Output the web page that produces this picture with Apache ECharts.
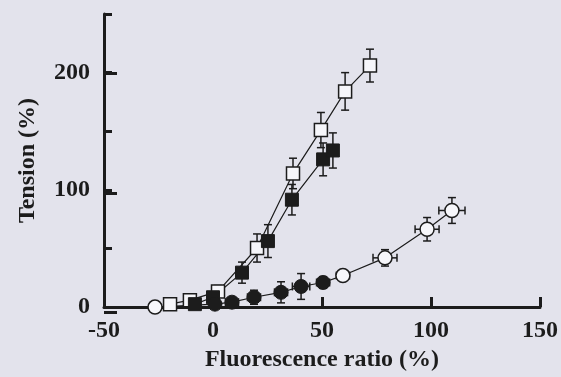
<!DOCTYPE html>
<html><head><meta charset="utf-8">
<script src="https://cdn.jsdelivr.net/npm/echarts@6/dist/echarts.min.js"></script>
<style>html,body{margin:0;padding:0;background:#e3e3ec;}#c{width:561px;height:377px;}</style>
</head><body><div id="c"></div>
<script>
// Data
const xTicks = [-50, 0, 50, 100, 150];
const yTickLabels = [0, 100, 200];

const openSqX = [-19.7, -10.6, 2.3, 20.2, 36.7, 49.5, 60.6, 72];
const openSqY = [2.5, 5.9, 13.4, 50.4, 114, 151, 184, 206];
const openSqErr = [3, 4, 5, 12, 13, 15, 16, 14];

const fillSqX = [-8.3, 0, 13.3, 25.2, 36.2, 50.5, 55];
const fillSqY = [2.5, 8.4, 29.4, 56.3, 91.6, 126, 133.6];
const fillSqErr = [2, 4, 9, 14, 13, 14, 15];

const fillCircX = [0.9, 8.7, 18.8, 31.2, 40.4, 50.5];
const fillCircY = [2.5, 4.2, 8.4, 12.6, 17.6, 21];
const fillCircYErr = [2, 3, 6, 9, 11, 5];
const fillCircXErr = [0, 3, 3, 3, 4, 3];

const openCircX = [-26.6, 59.6, 78.9, 98.2, 109.6];
const openCircY = [0, 26.9, 42, 66.4, 82.4];
const openCircYErr = [0, 4, 7, 10, 11];
const openCircXErr = [0, 3, 5.5, 5.5, 6];

const ink = '#1c1c1c';
function pts(xs, ys) { return xs.map((x, i) => [x, ys[i]]); }
function errPts(xs, ys, ye, xe) { return xs.map((x, i) => [x, ys[i], ye[i], xe ? xe[i] : 0]); }

const circLine = pts(openCircX, openCircY).concat(pts(fillCircX, fillCircY)).sort((a, b) => a[0] - b[0]);

function errRender(params, api) {
  const x = api.value(0), y = api.value(1), ye = api.value(2), xe = api.value(3);
  const c = 4;
  const children = [];
  const st = { stroke: ink, lineWidth: 1.5 };
  if (ye > 0) {
    const t = api.coord([x, y + ye]), b = api.coord([x, y - ye]);
    children.push({ type: 'line', shape: { x1: t[0], y1: t[1], x2: b[0], y2: b[1] }, style: st });
    children.push({ type: 'line', shape: { x1: t[0] - c, y1: t[1], x2: t[0] + c, y2: t[1] }, style: st });
    children.push({ type: 'line', shape: { x1: b[0] - c, y1: b[1], x2: b[0] + c, y2: b[1] }, style: st });
  }
  if (xe > 0) {
    const l = api.coord([x - xe, y]), r = api.coord([x + xe, y]);
    children.push({ type: 'line', shape: { x1: l[0], y1: l[1], x2: r[0], y2: r[1] }, style: st });
    children.push({ type: 'line', shape: { x1: l[0], y1: l[1] - c, x2: l[0], y2: l[1] + c }, style: st });
    children.push({ type: 'line', shape: { x1: r[0], y1: r[1] - c, x2: r[0], y2: r[1] + c }, style: st });
  }
  return { type: 'group', children };
}

const font = { fontFamily: 'Liberation Serif', fontWeight: 'bold', fontSize: 24, color: ink };
const chart = echarts.init(document.getElementById('c'));
const lineStyleThin = { color: ink, width: 1.2 };

// grid 1 covers only 0..200 of the plot, used for the longer labelled ticks
const gTop = 14, gBottom = 65, plotH = 377 - gTop - gBottom;

chart.setOption({
  backgroundColor: '#e3e3ec',
  animation: false,
  grid: [
    { left: 104, right: 21, top: gTop, bottom: gBottom },
    { left: 104, right: 21, top: gTop + plotH * 50 / 250, bottom: gBottom }
  ],
  xAxis: [{
    type: 'value', min: -50, max: 150, interval: 50,
    axisLine: { onZero: false, lineStyle: { color: ink, width: 3 } },
    axisTick: { inside: true, length: 10, lineStyle: { color: ink, width: 3 } },
    splitLine: { show: false },
    axisLabel: Object.assign({ margin: 12, formatter: v => xTicks.includes(v) ? String(v) : '' }, font),
    name: 'Fluorescence ratio (%)', nameLocation: 'middle', nameGap: 40,
    nameTextStyle: font
  }, {
    gridIndex: 1, type: 'value', min: -50, max: 150, show: false
  }],
  yAxis: [{
    type: 'value', min: 0, max: 250, interval: 50,
    axisLine: { show: true, onZero: false, lineStyle: { color: ink, width: 3 } },
    axisTick: { show: true, inside: true, length: 8, lineStyle: { color: ink, width: 3 } },
    splitLine: { show: false },
    axisLabel: Object.assign({ margin: 14, formatter: v => yTickLabels.includes(v) ? String(v) : '' }, font),
    name: 'Tension (%)', nameLocation: 'middle', nameGap: 64, nameRotate: 90,
    nameTextStyle: font
  }, {
    gridIndex: 1, type: 'value', min: 0, max: 200, interval: 100, position: 'left',
    axisLine: { show: false, onZero: false },
    axisTick: { show: true, inside: true, length: 13, lineStyle: { color: ink, width: 3 } },
    axisLabel: { show: false }, splitLine: { show: false }
  }],
  series: [
    { type: 'line', data: pts(openSqX, openSqY), symbol: 'none', lineStyle: lineStyleThin, z: 2 },
    { type: 'line', data: pts(fillSqX, fillSqY), symbol: 'none', lineStyle: lineStyleThin, z: 2 },
    { type: 'line', data: circLine, symbol: 'none', lineStyle: lineStyleThin, z: 2 },
    { type: 'custom', renderItem: errRender, data: errPts(openSqX, openSqY, openSqErr), z: 3 },
    { type: 'custom', renderItem: errRender, data: errPts(fillSqX, fillSqY, fillSqErr), z: 3 },
    { type: 'custom', renderItem: errRender, data: errPts(fillCircX, fillCircY, fillCircYErr, fillCircXErr), z: 3 },
    { type: 'custom', renderItem: errRender, data: errPts(openCircX, openCircY, openCircYErr, openCircXErr), z: 3 },
    { type: 'scatter', data: pts(openSqX, openSqY), symbol: 'rect', symbolSize: 13,
      itemStyle: { color: '#f6f6fa', borderColor: ink, borderWidth: 1.5, opacity: 1 }, z: 4 },
    { type: 'scatter', data: pts(fillSqX, fillSqY), symbol: 'rect', symbolSize: 13,
      itemStyle: { color: ink, borderColor: ink, borderWidth: 1, opacity: 1 }, z: 5 },
    { type: 'scatter', data: pts(fillCircX, fillCircY), symbol: 'circle', symbolSize: 14,
      itemStyle: { color: ink, borderColor: ink, borderWidth: 1, opacity: 1 }, z: 5 },
    { type: 'scatter', data: pts(openCircX, openCircY), symbol: 'circle', symbolSize: 14,
      itemStyle: { color: '#f6f6fa', borderColor: ink, borderWidth: 1.5, opacity: 1 }, z: 4 }
  ]
});
</script></body></html>
